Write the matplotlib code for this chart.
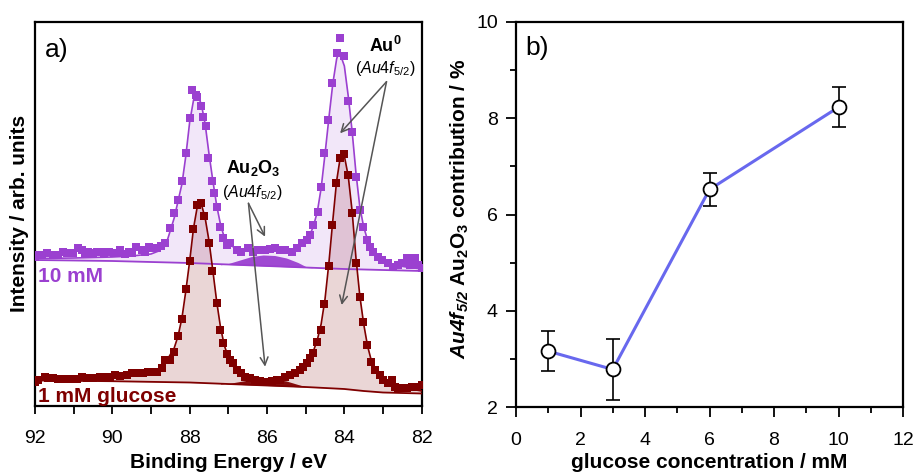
import matplotlib
matplotlib.use("Agg")
import matplotlib.pyplot as plt
from matplotlib.ticker import MultipleLocator
import numpy as np

plt.rcParams['font.family'] = ['Liberation Sans', 'DejaVu Sans']
plt.rcParams['mathtext.fontset'] = 'custom'
plt.rcParams['mathtext.rm'] = 'Liberation Sans'
plt.rcParams['mathtext.it'] = 'Liberation Sans:italic'
plt.rcParams['mathtext.bf'] = 'Liberation Sans:bold'
plt.rcParams['mathtext.bfit'] = 'Liberation Sans:bold:italic'

# ---------------- panel a) data (binding energy in eV, intensity arb. units) -------------
e_10mM = [92.00, 91.96, 91.83, 91.70, 91.53, 91.40, 91.27, 91.18, 91.01, 90.90, 90.79, 90.71,
          90.62, 90.51, 90.40, 90.30, 90.22, 90.09, 89.97, 89.85, 89.80, 89.66, 89.58, 89.48,
          89.39, 89.24, 89.15, 89.06, 88.97, 88.85, 88.73, 88.63, 88.52, 88.40, 88.29, 88.19,
          88.10, 88.00, 87.93, 87.84, 87.80, 87.72, 87.65, 87.59, 87.52, 87.41, 87.36, 87.29,
          87.22, 87.13, 87.03, 86.96, 86.78, 86.66, 86.48, 86.35, 86.23, 86.05, 85.92, 85.79,
          85.66, 85.53, 85.36, 85.23, 85.10, 84.97, 84.89, 84.80, 84.69, 84.60, 84.52, 84.43,
          84.31, 84.19, 84.11, 84.01, 83.91, 83.81, 83.70, 83.60, 83.51, 83.42, 83.34, 83.25,
          83.12, 83.03, 82.86, 82.73, 82.60, 82.52, 82.39, 82.30, 82.17, 82.09, 82.00]
i_10mM = [149, 151, 151, 152.7, 151, 151, 154.3, 152.7, 152.7, 157.7, 156, 152.7,
          154.3, 152.7, 154.3, 154.3, 152.7, 154.3, 152.7, 152.7, 156, 152, 154.3, 152.7,
          159.3, 156, 153.7, 159.3, 157.7, 157.7, 160, 162.7, 178, 192.7, 206, 225,
          252.7, 288, 316, 311, 309, 300.5, 288.7, 280, 247.7, 225.3, 213.3, 198.7,
          179.3, 167.7, 161, 162.7, 156, 154.3, 157.7, 154.3, 156, 156, 156.7, 157.7,
          156, 156, 154.3, 157.7, 162.7, 166, 171, 181, 194.3, 219.3, 252.7, 286,
          323.3, 352.7, 367.7, 350, 305, 274.3, 229.3, 196, 179.3, 166, 159.3, 154.3,
          149.3, 146, 142.7, 139.3, 141, 142.7, 147.7, 141, 147.7, 141, 137.7]

e_1mM = [92.00, 91.91, 91.74, 91.66, 91.53, 91.40, 91.27, 91.09, 90.92, 90.79, 90.66, 90.49,
         90.32, 90.19, 90.06, 89.93, 89.80, 89.63, 89.50, 89.37, 89.20, 89.07, 88.94, 88.85,
         88.72, 88.64, 88.51, 88.41, 88.31, 88.20, 88.10, 87.99, 87.91, 87.82, 87.72, 87.63,
         87.50, 87.41, 87.30, 87.22, 87.13, 87.04, 86.96, 86.87, 86.78, 86.66, 86.57, 86.44,
         86.31, 86.18, 86.05, 85.88, 85.75, 85.66, 85.54, 85.41, 85.28, 85.15, 85.06, 84.97,
         84.89, 84.80, 84.72, 84.61, 84.52, 84.41, 84.31, 84.22, 84.11, 84.01, 83.91, 83.81,
         83.71, 83.60, 83.51, 83.42, 83.32, 83.21, 83.08, 82.99, 82.86, 82.78, 82.69, 82.60,
         82.48, 82.39, 82.26, 82.13, 82.00]
i_1mM = [24.3, 26, 29.3, 27.7, 27.7, 26.7, 26.7, 26.7, 26.7, 29.3, 27.7, 27.7,
         28.7, 29.3, 29.3, 31, 30, 31, 32.7, 32.7, 33.3, 34.3, 34.3, 34.3,
         37.7, 46, 46, 53.7, 70.3, 87, 117, 145, 176.7, 201, 203.3, 190,
         163.3, 135, 102.7, 76, 63.3, 52, 46, 42.7, 36, 32.7, 29.3, 27.7,
         26, 25.3, 24.3, 25.3, 26, 26, 28.7, 31, 32.7, 36, 39.3, 42.7,
         47.7, 52.7, 64.3, 76, 102, 140, 181, 222.7, 247.7, 252, 231, 192.7,
         142.7, 109.3, 84.3, 61, 44.3, 36, 31, 26, 22.7, 26, 19.3, 17.7,
         17.7, 17.7, 19.3, 19.3, 21]

# fitted envelopes
e_fit_10 = [92.0, 91.0, 90.0, 89.5, 89.0, 88.8, 88.6, 88.4, 88.2, 88.1, 88.0, 87.9, 87.8, 87.7,
            87.6, 87.5, 87.4, 87.3, 87.2, 87.1, 87.0, 86.8, 86.5, 86.2, 86.0, 85.7, 85.4, 85.2,
            85.0, 84.9, 84.8, 84.7, 84.6, 84.5, 84.4, 84.3, 84.2, 84.15, 84.1, 84.0, 83.9, 83.8,
            83.7, 83.6, 83.5, 83.4, 83.3, 83.2, 83.0, 82.7, 82.4, 82.0]
i_fit_10 = [147.5, 148, 149, 150, 152, 155, 163, 188, 222, 250, 284, 306, 311, 302,
            282, 252, 225, 200, 181, 168, 162, 157.5, 155.5, 154.5, 154.5, 155, 155.5, 158,
            164, 170, 180, 194, 218, 252, 288, 322, 347, 353, 351, 340, 310, 275,
            233, 199, 179, 166, 158, 152.5, 146, 141, 139, 137]
e_bg_10 = [92.0, 90.0, 88.0, 87.0, 86.0, 85.0, 84.0, 83.0, 82.0]
i_bg_10 = [146, 145, 143, 141.5, 140, 138.5, 137, 136, 135]
e_ox_10 = [87.2, 87.0, 86.7, 86.4, 86.1, 85.8, 85.5, 85.2, 85.0, 84.8]
i_ox_10 = [141.2, 142.5, 146, 149.5, 151, 150.5, 148, 143.5, 139.5, 138.2]

e_fit_1 = [92.0, 91.0, 90.0, 89.5, 89.0, 88.8, 88.6, 88.4, 88.3, 88.2, 88.1, 88.0, 87.9, 87.8,
           87.75, 87.7, 87.6, 87.5, 87.4, 87.3, 87.2, 87.1, 87.0, 86.9, 86.8, 86.6, 86.4, 86.2,
           86.0, 85.8, 85.6, 85.4, 85.2, 85.0, 84.9, 84.8, 84.7, 84.6, 84.5, 84.4, 84.3, 84.2,
           84.1, 84.05, 84.0, 83.9, 83.8, 83.7, 83.6, 83.5, 83.4, 83.3, 83.2, 83.0, 82.8, 82.5,
           82.0]
i_fit_1 = [26, 27, 28.5, 30.5, 34, 37, 45, 58, 70, 88, 115, 145, 178, 200,
           204, 202, 188, 165, 135, 104, 78, 60, 49, 41, 36, 31, 27.5, 26,
           25.5, 26, 27.5, 30.5, 35, 41, 47, 55, 66, 82, 107, 143, 185, 225,
           250, 253, 250, 230, 195, 148, 110, 82, 60, 45, 36, 27, 22, 18.5,
           15]
e_bg_1 = [92.0, 90.0, 88.0, 87.0, 86.0, 85.0, 84.0, 83.5, 83.0, 82.0]
i_bg_1 = [25.5, 24.8, 23.5, 22, 20.5, 19, 17, 15, 13.5, 12.5]
e_ox_1 = [87.2, 87.0, 86.7, 86.4, 86.1, 85.8, 85.5, 85.2, 85.0, 84.8]
i_ox_1 = [21.7, 22.5, 24.5, 26.5, 27.5, 27, 25, 21.5, 19.3, 18.6]

# ---------------- panel b) data ----------------
conc = [1, 3, 6, 10]
contrib = [3.16, 2.78, 6.52, 8.23]
contrib_err = [0.42, 0.63, 0.35, 0.42]

PURPLE = '#9b40d0'
DARKRED = '#7f0000'
BLUE = '#6868ee'
ARROW = '#555555'

fig = plt.figure(figsize=(9.15, 4.72), dpi=100)
ax1 = fig.add_axes([35/915, 66/472, 386.7/915, 384/472])
ax2 = fig.add_axes([516/915, 65/472, 387/915, 385/472])


def interp_desc(e_src, i_src, e_new):
    return np.interp(e_new[::-1], e_src[::-1], i_src[::-1])[::-1]


# fills between envelope and background
bg10_on_fit = interp_desc(e_bg_10, i_bg_10, e_fit_10)
bg1_on_fit = interp_desc(e_bg_1, i_bg_1, e_fit_1)
ax1.fill_between(e_fit_1, bg1_on_fit, i_fit_1, color=DARKRED, alpha=0.16, lw=0, zorder=1)
ax1.fill_between(e_fit_10, bg10_on_fit, i_fit_10, color=PURPLE, alpha=0.12, lw=0, zorder=1)
bg10_on_ox = interp_desc(e_bg_10, i_bg_10, e_ox_10)
bg1_on_ox = interp_desc(e_bg_1, i_bg_1, e_ox_1)
ax1.fill_between(e_ox_10, bg10_on_ox, i_ox_10, color=PURPLE, alpha=0.95, lw=0, zorder=2)
ax1.fill_between(e_ox_1, bg1_on_ox, i_ox_1, color=DARKRED, alpha=0.95, lw=0, zorder=2)

ax1.plot(e_bg_10, i_bg_10, color=PURPLE, lw=1.3, zorder=3)
ax1.plot(e_bg_1, i_bg_1, color=DARKRED, lw=1.3, zorder=3)
ax1.plot(e_fit_10, i_fit_10, color=PURPLE, lw=1.2, zorder=3)
ax1.plot(e_fit_1, i_fit_1, color=DARKRED, lw=1.2, zorder=3)
ax1.plot(e_10mM, i_10mM, 's', color=PURPLE, ms=5.2, mew=0, zorder=4)
ax1.plot(e_1mM, i_1mM, 's', color=DARKRED, ms=5.2, mew=0, zorder=4)

ax1.set_xlim(92, 82)
ax1.set_ylim(0, 384)
ax1.xaxis.set_major_locator(MultipleLocator(2))
ax1.xaxis.set_minor_locator(MultipleLocator(1))
ax1.tick_params(axis='x', which='both', direction='out', length=6, width=1.3,
                labelsize=14, pad=11, top=False)
ax1.tick_params(axis='y', which='both', left=False, right=False, labelleft=False)
for sp in ax1.spines.values():
    sp.set_linewidth(1.6)

ax1.text(91.43, 356, 'a)', fontsize=19, ha='center', va='center')
ax1.text(91.92, 130, '10 mM', fontsize=15, fontweight='bold', color=PURPLE,
         ha='left', va='center')
ax1.text(91.92, 10, '1 mM glucose', fontsize=15, fontweight='bold', color=DARKRED,
         ha='left', va='center')

ax1.text(82.95, 360, r'$\mathbf{Au^0}$', fontsize=13, ha='center', va='center', zorder=6)
ax1.text(82.95, 338, r'($\mathit{Au4f}_{\mathit{5/2}}$)', fontsize=11.5, ha='center',
         va='center', zorder=6)
ax1.text(86.36, 238, r'$\mathbf{Au_2O_3}$', fontsize=13, ha='center', va='center', zorder=6)
ax1.text(86.39, 214, r'($\mathit{Au4f}_{\mathit{5/2}}$)', fontsize=11.5, ha='center',
         va='center', zorder=6)

arrow_kw = dict(arrowstyle='->', color=ARROW, lw=1.1, shrinkA=0, shrinkB=0,
                mutation_scale=14)
for tgt in [(84.11, 272.7), (84.07, 101)]:
    ax1.annotate('', xy=tgt, xytext=(82.91, 324.3), arrowprops=arrow_kw, zorder=6)
for tgt in [(86.05, 169.3), (86.05, 39.3)]:
    ax1.annotate('', xy=tgt, xytext=(86.48, 202.7), arrowprops=arrow_kw, zorder=6)

fig.text((35 + 421.7) / 2 / 915, 4.5 / 472, 'Binding Energy / eV', fontsize=15,
         fontweight='bold', ha='center', va='baseline')
fig.text(19.5 / 915, 1 - 213 / 472, 'Intensity / arb. units', fontsize=15,
         fontweight='bold', rotation=90, ha='center', va='center')

# ---- panel b ----
ax2.plot(conc, contrib, color=BLUE, lw=2.2, zorder=2)
ax2.errorbar(conc, contrib, yerr=contrib_err, fmt='none', ecolor='black',
             elinewidth=1.2, capsize=5, capthick=1.2, zorder=3)
ax2.plot(conc, contrib, 'o', ms=10, mfc='white', mec='black', mew=1.3, zorder=4)
ax2.set_xlim(0, 12)
ax2.set_ylim(2, 10)
ax2.xaxis.set_major_locator(MultipleLocator(2))
ax2.xaxis.set_minor_locator(MultipleLocator(1))
ax2.yaxis.set_major_locator(MultipleLocator(2))
ax2.yaxis.set_minor_locator(MultipleLocator(1))
ax2.tick_params(which='major', direction='out', length=7, width=1.3, labelsize=14)
ax2.tick_params(which='minor', direction='out', length=4, width=1.3)
ax2.tick_params(axis='x', which='major', pad=11)
ax2.tick_params(axis='y', which='major', pad=6)
for sp in ax2.spines.values():
    sp.set_linewidth(1.6)
ax2.text(0.651, 9.46, 'b)', fontsize=19, ha='center', va='center')

fig.text((516 + 903) / 2 / 915, 4.5 / 472, 'glucose concentration / mM', fontsize=15,
         fontweight='bold', ha='center', va='baseline')
fig.text(460 / 915, 1 - 208.5 / 472,
         r'$\mathbfit{Au4f}_{\mathbfit{5/2}}$ Au$_\mathbf{2}$O$_\mathbf{3}$ contribution / %',
         fontsize=15, fontweight='bold', rotation=90, ha='center', va='center')

fig.savefig('out.png', dpi=100)
